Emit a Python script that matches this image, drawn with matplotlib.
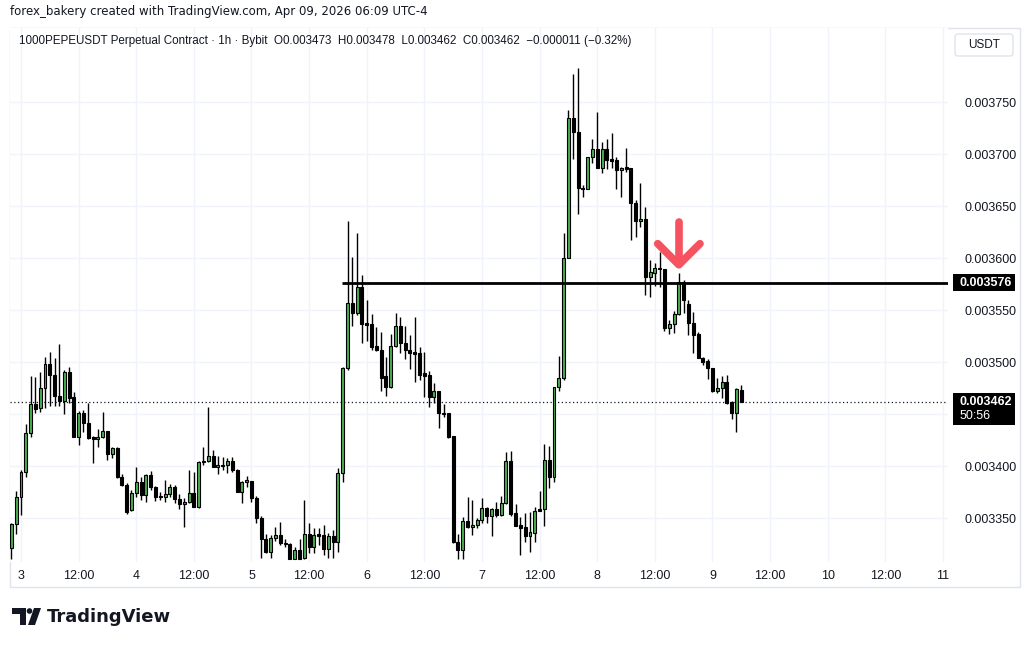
import matplotlib
matplotlib.use('Agg')
import matplotlib.pyplot as plt
import matplotlib.patches as patches
import matplotlib.transforms as mtransforms
import numpy as np

# hourly candles, Apr 2 22:00 -> Apr 9 06:00 (hour 0 = Apr 3 00:00)
start_hour = -2
opens = [
    0.003321, 0.003344, 0.003370, 0.003394, 0.003432, 0.003460, 0.003456, 0.003475, 0.003498, 0.003488,
    0.003467, 0.003463, 0.003490, 0.003466, 0.003428, 0.003451, 0.003441, 0.003428, 0.003426, 0.003428,
    0.003434, 0.003412, 0.003417, 0.003389, 0.003382, 0.003358, 0.003374, 0.003385, 0.003372, 0.003391,
    0.003380, 0.003371, 0.003370, 0.003373, 0.003380, 0.003368, 0.003363, 0.003365, 0.003374, 0.003361,
    0.003404, 0.003405, 0.003410, 0.003399, 0.003401, 0.003401, 0.003405, 0.003396, 0.003375, 0.003385,
    0.003386, 0.003369, 0.003350, 0.003330, 0.003317, 0.003331, 0.003334, 0.003326, 0.003325, 0.003311,
    0.003319, 0.003312, 0.003335, 0.003322, 0.003334, 0.003334, 0.003320, 0.003333, 0.003327, 0.003393,
    0.003494, 0.003557, 0.003547, 0.003572, 0.003537, 0.003537, 0.003515, 0.003512, 0.003487, 0.003476,
    0.003515, 0.003535, 0.003518, 0.003512, 0.003509, 0.003509, 0.003489, 0.003488, 0.003466, 0.003472,
    0.003451, 0.003451, 0.003429, 0.003327, 0.003319, 0.003347, 0.003341, 0.003343, 0.003348, 0.003360,
    0.003352, 0.003359, 0.003353, 0.003364, 0.003405, 0.003355, 0.003343, 0.003341, 0.003333, 0.003336,
    0.003359, 0.003359, 0.003406, 0.003389, 0.003476, 0.003485, 0.003600, 0.003735, 0.003721, 0.003667,
    0.003666, 0.003697, 0.003705, 0.003687, 0.003705, 0.003695, 0.003694, 0.003685, 0.003687, 0.003687,
    0.003653, 0.003636, 0.003638, 0.003582, 0.003586, 0.003590, 0.003589, 0.003533, 0.003537, 0.003546,
    0.003577, 0.003556, 0.003538, 0.003527, 0.003504, 0.003501, 0.003494, 0.003472, 0.003475, 0.003481,
    0.003462, 0.003451, 0.003473,
]
highs = [
    0.003345, 0.003376, 0.003396, 0.003440, 0.003487, 0.003486, 0.003490, 0.003505, 0.003510, 0.003504,
    0.003517, 0.003492, 0.003495, 0.003471, 0.003453, 0.003454, 0.003461, 0.003429, 0.003436, 0.003452,
    0.003434, 0.003418, 0.003418, 0.003392, 0.003384, 0.003377, 0.003399, 0.003389, 0.003392, 0.003395,
    0.003381, 0.003375, 0.003387, 0.003383, 0.003382, 0.003373, 0.003369, 0.003396, 0.003394, 0.003405,
    0.003418, 0.003457, 0.003415, 0.003410, 0.003409, 0.003408, 0.003409, 0.003397, 0.003386, 0.003390,
    0.003386, 0.003371, 0.003352, 0.003335, 0.003334, 0.003341, 0.003346, 0.003330, 0.003326, 0.003322,
    0.003330, 0.003367, 0.003345, 0.003340, 0.003340, 0.003343, 0.003336, 0.003338, 0.003398, 0.003495,
    0.003636, 0.003601, 0.003624, 0.003584, 0.003560, 0.003546, 0.003534, 0.003529, 0.003505, 0.003527,
    0.003547, 0.003543, 0.003535, 0.003526, 0.003543, 0.003514, 0.003510, 0.003491, 0.003480, 0.003472,
    0.003460, 0.003451, 0.003429, 0.003335, 0.003351, 0.003370, 0.003367, 0.003350, 0.003369, 0.003361,
    0.003360, 0.003365, 0.003371, 0.003413, 0.003414, 0.003363, 0.003351, 0.003355, 0.003356, 0.003361,
    0.003376, 0.003421, 0.003419, 0.003476, 0.003506, 0.003624, 0.003742, 0.003777, 0.003783, 0.003670,
    0.003697, 0.003714, 0.003740, 0.003712, 0.003714, 0.003720, 0.003697, 0.003688, 0.003706, 0.003687,
    0.003656, 0.003672, 0.003649, 0.003598, 0.003595, 0.003606, 0.003589, 0.003540, 0.003549, 0.003586,
    0.003579, 0.003560, 0.003548, 0.003529, 0.003505, 0.003503, 0.003494, 0.003485, 0.003487, 0.003488,
    0.003463, 0.003475, 0.003478,
]
lows = [
    0.003311, 0.003335, 0.003353, 0.003389, 0.003428, 0.003451, 0.003452, 0.003456, 0.003458, 0.003458,
    0.003458, 0.003450, 0.003461, 0.003428, 0.003420, 0.003433, 0.003426, 0.003403, 0.003418, 0.003427,
    0.003406, 0.003408, 0.003388, 0.003381, 0.003354, 0.003357, 0.003370, 0.003367, 0.003365, 0.003377,
    0.003366, 0.003367, 0.003365, 0.003370, 0.003364, 0.003359, 0.003341, 0.003364, 0.003361, 0.003360,
    0.003401, 0.003404, 0.003399, 0.003392, 0.003396, 0.003393, 0.003394, 0.003375, 0.003364, 0.003380,
    0.003365, 0.003345, 0.003312, 0.003316, 0.003312, 0.003328, 0.003324, 0.003322, 0.003311, 0.003311,
    0.003311, 0.003311, 0.003316, 0.003316, 0.003324, 0.003314, 0.003312, 0.003312, 0.003317, 0.003385,
    0.003492, 0.003535, 0.003545, 0.003518, 0.003520, 0.003512, 0.003511, 0.003472, 0.003467, 0.003475,
    0.003514, 0.003509, 0.003503, 0.003493, 0.003481, 0.003483, 0.003466, 0.003457, 0.003461, 0.003437,
    0.003447, 0.003427, 0.003326, 0.003311, 0.003311, 0.003340, 0.003334, 0.003340, 0.003345, 0.003345,
    0.003333, 0.003351, 0.003352, 0.003363, 0.003352, 0.003342, 0.003314, 0.003327, 0.003317, 0.003327,
    0.003357, 0.003342, 0.003379, 0.003385, 0.003472, 0.003483, 0.003600, 0.003695, 0.003642, 0.003659,
    0.003666, 0.003691, 0.003687, 0.003682, 0.003686, 0.003687, 0.003666, 0.003659, 0.003683, 0.003617,
    0.003620, 0.003630, 0.003564, 0.003563, 0.003573, 0.003572, 0.003530, 0.003527, 0.003528, 0.003545,
    0.003547, 0.003526, 0.003509, 0.003504, 0.003497, 0.003484, 0.003471, 0.003470, 0.003465, 0.003460,
    0.003445, 0.003433, 0.003462,
]
closes = [
    0.003344, 0.003370, 0.003394, 0.003432, 0.003460, 0.003455, 0.003475, 0.003498, 0.003488, 0.003467,
    0.003463, 0.003490, 0.003465, 0.003428, 0.003451, 0.003441, 0.003427, 0.003426, 0.003428, 0.003434,
    0.003412, 0.003417, 0.003389, 0.003382, 0.003356, 0.003374, 0.003385, 0.003372, 0.003391, 0.003380,
    0.003370, 0.003370, 0.003373, 0.003380, 0.003368, 0.003363, 0.003365, 0.003374, 0.003361, 0.003404,
    0.003405, 0.003410, 0.003399, 0.003401, 0.003400, 0.003405, 0.003396, 0.003375, 0.003385, 0.003387,
    0.003369, 0.003350, 0.003330, 0.003317, 0.003331, 0.003334, 0.003326, 0.003325, 0.003311, 0.003319,
    0.003311, 0.003335, 0.003322, 0.003334, 0.003333, 0.003320, 0.003333, 0.003327, 0.003393, 0.003494,
    0.003557, 0.003547, 0.003572, 0.003537, 0.003536, 0.003514, 0.003512, 0.003485, 0.003476, 0.003515,
    0.003535, 0.003518, 0.003512, 0.003509, 0.003508, 0.003488, 0.003487, 0.003466, 0.003472, 0.003451,
    0.003450, 0.003428, 0.003327, 0.003319, 0.003347, 0.003341, 0.003343, 0.003348, 0.003360, 0.003352,
    0.003359, 0.003353, 0.003364, 0.003405, 0.003354, 0.003342, 0.003340, 0.003333, 0.003337, 0.003357,
    0.003357, 0.003406, 0.003389, 0.003476, 0.003485, 0.003600, 0.003735, 0.003721, 0.003667, 0.003666,
    0.003697, 0.003705, 0.003687, 0.003705, 0.003694, 0.003693, 0.003685, 0.003687, 0.003686, 0.003653,
    0.003636, 0.003638, 0.003582, 0.003587, 0.003590, 0.003589, 0.003533, 0.003537, 0.003546, 0.003577,
    0.003560, 0.003538, 0.003526, 0.003504, 0.003500, 0.003494, 0.003472, 0.003475, 0.003481, 0.003461,
    0.003451, 0.003474, 0.003462,
]

tick_hours = list(range(0, 193, 12))
tick_labels = ["3", "12:00", "4", "12:00", "5", "12:00", "6", "12:00", "7", "12:00",
               "8", "12:00", "9", "12:00", "10", "12:00", "11"]
price_ticks = [0.003350, 0.003400, 0.003450, 0.003500, 0.003550, 0.003600, 0.003650, 0.003700, 0.003750]
hidden_tick = 0.003450   # covered by the last price label
level_price = 0.003576
level_start_hour = 66.8
last_price = 0.003462
countdown = "50:56"
arrow_hour = 137

plt.rcParams['font.family'] = ['Liberation Sans', 'DejaVu Sans']

W, H = 1030, 647
fig = plt.figure(figsize=(W / 100, H / 100), dpi=100)
fig.patch.set_facecolor('white')

def fx(px):
    return px / W

def fy(py):
    return 1 - py / H

# main chart axes: x 10..948 px, y 28..562 px
ax = fig.add_axes([fx(10), fy(562), fx(948) - fx(10), fy(28) - fy(562)])
ax.set_facecolor('white')
ax.set_xlim(-2.29, 193.05)
ax.set_ylim(0.0033077, 0.0038212)
for s in ax.spines.values():
    s.set_visible(False)

grid_c = '#f0f3fa'
for h in tick_hours:
    ax.axvline(h, color=grid_c, lw=1, zorder=0)
for p in price_ticks:
    ax.axhline(p, color=grid_c, lw=1, zorder=0)

ax.set_xticks(tick_hours)
ax.set_xticklabels(tick_labels, fontsize=9, color='#131722')
ax.tick_params(axis='x', length=0, pad=6)
ax.yaxis.tick_right()
shown = [p for p in price_ticks if p != hidden_tick]
ax.set_yticks(shown)
ax.set_yticklabels([f"{p:.6f}" for p in shown], fontsize=9, color='#131722')
ax.tick_params(axis='y', length=0, pad=12)

# candles
hours = np.arange(len(opens)) + start_hour
o = np.array(opens)
c = np.array(closes)
hi = np.array(highs)
lo = np.array(lows)
up = c >= o
ax.vlines(hours, lo, hi, color='black', lw=1, zorder=2)
body_bot = np.minimum(o, c)
body_h = np.maximum(np.abs(c - o), 1.2e-6)
ax.bar(hours, body_h, bottom=body_bot, width=0.62,
       color=np.where(up, '#4caf50', '#000000'), edgecolor='black', linewidth=0.8, zorder=3)

# key level
ax.hlines(level_price, level_start_hour, 193.05, color='black', lw=2, zorder=4)
# last price dotted line
ax.axhline(last_price, color='#131722', lw=0.9, ls=(0, (1, 2)), zorder=1)

# red arrow above the rejection candle
arrow_c = '#f7525f'
ax.plot([arrow_hour, arrow_hour], [0.0036346, 0.0035950], color=arrow_c, lw=5.5,
        solid_capstyle='round', zorder=5)
ax.plot([arrow_hour - 4.4, arrow_hour, arrow_hour + 4.4], [0.0036138, 0.0035935, 0.0036138],
        color=arrow_c, lw=5.5, solid_capstyle='round', solid_joinstyle='round', zorder=5)

# price labels on the axis
tr = mtransforms.blended_transform_factory(fig.transFigure, ax.transData)
ph = 0.00005 / 52  # price per pixel
box_x0 = fx(953)
box_w = fx(1015) - fx(953)
ax.add_patch(patches.Rectangle((box_x0, level_price - 8.5 * ph), box_w, 17 * ph,
                               transform=tr, facecolor='black', edgecolor='none', clip_on=False, zorder=6))
ax.text(fx(960), level_price, f"{level_price:.6f}", transform=tr, ha='left', va='center',
        color='white', fontsize=9, fontweight='bold', clip_on=False, zorder=7)
ax.add_patch(patches.Rectangle((box_x0, last_price - 23 * ph), box_w, 32 * ph,
                               transform=tr, facecolor='black', edgecolor='none', clip_on=False, zorder=6))
ax.text(fx(960), last_price, f"{last_price:.6f}", transform=tr, ha='left', va='center',
        color='white', fontsize=9, fontweight='bold', clip_on=False, zorder=7)
ax.text(fx(960), last_price - 14 * ph, countdown, transform=tr, ha='left', va='center',
        color='white', fontsize=9, clip_on=False, zorder=7)

# overlay in pixel coords for frame, header and logo
ov = fig.add_axes([0, 0, 1, 1], zorder=-1)
ov.set_xlim(0, W)
ov.set_ylim(H, 0)
ov.axis('off')
ov.add_patch(patches.Rectangle((10, 28), 1010, 559, fill=False, edgecolor='#e0e3eb', lw=1))

top = fig.add_axes([0, 0, 1, 1], zorder=10)
top.set_xlim(0, W)
top.set_ylim(H, 0)
top.axis('off')
top.patch.set_alpha(0)
top.text(10, 12, "forex_bakery created with TradingView.com, Apr 09, 2026 06:09 UTC-4",
         fontsize=8.5, color='#131722', va='center', ha='left', family='DejaVu Sans')
top.text(19, 41, "1000PEPEUSDT Perpetual Contract \u00b7 1h \u00b7 Bybit  O0.003473  H0.003478  "
         "L0.003462  C0.003462  \u22120.000011 (\u22120.32%)",
         fontsize=8.4, color='#131722', va='center', ha='left')
top.add_patch(patches.FancyBboxPatch((955, 34), 58, 22, boxstyle="round,pad=0,rounding_size=3",
                                     facecolor='white', edgecolor='#e0e3eb', lw=1))
top.text(984, 45, "USDT", fontsize=8.5, color='#131722', va='center', ha='center')

# TradingView logo
top.add_patch(patches.Polygon([(12, 608), (26, 608), (26, 625), (20, 625), (20, 614), (12, 614)],
                              closed=True, facecolor='#131722', edgecolor='none'))
top.add_patch(patches.Circle((29.5, 611), 2.8, facecolor='#131722', edgecolor='none'))
top.add_patch(patches.Polygon([(34, 608), (41, 608), (35, 625), (28, 625)],
                              closed=True, facecolor='#131722', edgecolor='none'))
top.text(47, 617, "TradingView", fontsize=13, fontweight='bold', color='#131722',
         va='center', ha='left', family='DejaVu Sans')

fig.savefig("out.png", dpi=100, facecolor='white')
